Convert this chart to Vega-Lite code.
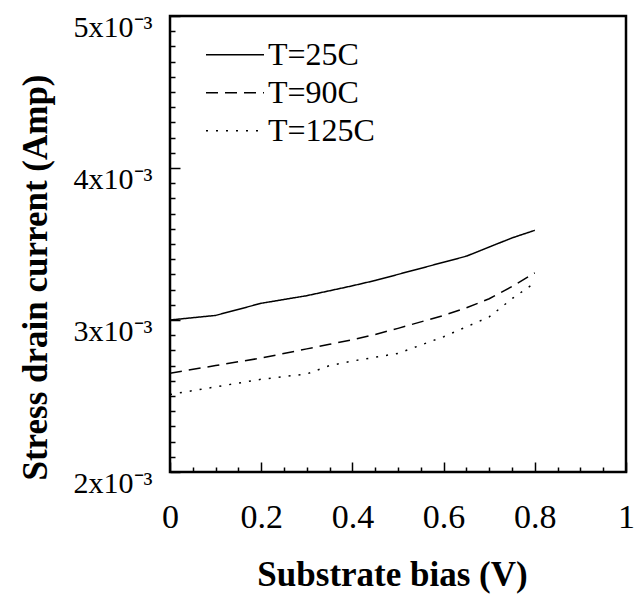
{
  "$schema": "https://vega.github.io/schema/vega-lite/v6.json",
  "width": 456,
  "height": 456,
  "autosize": "none",
  "padding": {"left": 170, "top": 16, "right": 8, "bottom": 127},
  "background": "white",
  "config": {
    "view": {"stroke": "black", "strokeWidth": 2.5},
    "font": "Liberation Serif",
    "axis": {"grid": false, "domain": false, "tickColor": "black", "tickWidth": 1.5, "labelColor": "black", "titleColor": "black", "labelFont": "Liberation Serif", "titleFont": "Liberation Serif"}
  },
  "data": {
    "values": [
      {"bias": 0.0, "current": 0.00300, "T": "T=25C"},
      {"bias": 0.1, "current": 0.00303, "T": "T=25C"},
      {"bias": 0.2, "current": 0.00311, "T": "T=25C"},
      {"bias": 0.3, "current": 0.00316, "T": "T=25C"},
      {"bias": 0.4, "current": 0.003225, "T": "T=25C"},
      {"bias": 0.45, "current": 0.00326, "T": "T=25C"},
      {"bias": 0.5, "current": 0.00330, "T": "T=25C"},
      {"bias": 0.6, "current": 0.00338, "T": "T=25C"},
      {"bias": 0.65, "current": 0.00342, "T": "T=25C"},
      {"bias": 0.7, "current": 0.00348, "T": "T=25C"},
      {"bias": 0.75, "current": 0.00354, "T": "T=25C"},
      {"bias": 0.8, "current": 0.00359, "T": "T=25C"},
      {"bias": 0.0, "current": 0.00265, "T": "T=90C"},
      {"bias": 0.1, "current": 0.00270, "T": "T=90C"},
      {"bias": 0.2, "current": 0.00275, "T": "T=90C"},
      {"bias": 0.3, "current": 0.00281, "T": "T=90C"},
      {"bias": 0.35, "current": 0.00284, "T": "T=90C"},
      {"bias": 0.4, "current": 0.00287, "T": "T=90C"},
      {"bias": 0.45, "current": 0.002905, "T": "T=90C"},
      {"bias": 0.5, "current": 0.002945, "T": "T=90C"},
      {"bias": 0.6, "current": 0.00303, "T": "T=90C"},
      {"bias": 0.65, "current": 0.00308, "T": "T=90C"},
      {"bias": 0.7, "current": 0.00314, "T": "T=90C"},
      {"bias": 0.75, "current": 0.00322, "T": "T=90C"},
      {"bias": 0.8, "current": 0.00331, "T": "T=90C"},
      {"bias": 0.0, "current": 0.00251, "T": "T=125C"},
      {"bias": 0.1, "current": 0.00256, "T": "T=125C"},
      {"bias": 0.2, "current": 0.00261, "T": "T=125C"},
      {"bias": 0.3, "current": 0.002645, "T": "T=125C"},
      {"bias": 0.35, "current": 0.00270, "T": "T=125C"},
      {"bias": 0.4, "current": 0.00273, "T": "T=125C"},
      {"bias": 0.5, "current": 0.00278, "T": "T=125C"},
      {"bias": 0.6, "current": 0.00289, "T": "T=125C"},
      {"bias": 0.7, "current": 0.00302, "T": "T=125C"},
      {"bias": 0.75, "current": 0.00314, "T": "T=125C"},
      {"bias": 0.8, "current": 0.003245, "T": "T=125C"}
    ]
  },
  "mark": {"type": "line", "color": "black", "strokeWidth": 1.5},
  "encoding": {
    "x": {
      "field": "bias",
      "type": "quantitative",
      "scale": {"domain": [0, 1], "nice": false, "zero": false},
      "axis": {
        "values": [0, 0.05, 0.1, 0.15, 0.2, 0.25, 0.3, 0.35, 0.4, 0.45, 0.5, 0.55, 0.6, 0.65, 0.7, 0.75, 0.8, 0.85, 0.9, 0.95, 1],
        "labelExpr": "abs(datum.value*5 - round(datum.value*5)) < 0.001 ? format(datum.value, '') : ''",
        "tickSize": {"condition": {"test": "abs(datum.value*5 - round(datum.value*5)) < 0.001", "value": -10}, "value": -5},
        "labelFontSize": 34,
        "labelBaseline": "alphabetic",
        "labelPadding": 65,
        "labelFlush": false,
        "labelOverlap": false,
        "title": "Substrate bias (V)",
        "titleFontSize": 35,
        "titleFontWeight": "bold",
        "titleX": 222,
        "titleY": 113,
        "titleBaseline": "alphabetic",
        "titleAlign": "center"
      }
    },
    "y": {
      "field": "current",
      "type": "quantitative",
      "scale": {"domain": [0.002, 0.005], "nice": false, "zero": false},
      "axis": {
        "values": [0.002, 0.0021, 0.0022, 0.0023, 0.0024, 0.0025, 0.0026, 0.0027, 0.0028, 0.0029, 0.003, 0.0031, 0.0032, 0.0033, 0.0034, 0.0035, 0.0036, 0.0037, 0.0038, 0.0039, 0.004, 0.0041, 0.0042, 0.0043, 0.0044, 0.0045, 0.0046, 0.0047, 0.0048, 0.0049, 0.005],
        "labelExpr": "abs(datum.value*1000 - round(datum.value*1000)) < 0.001 ? round(datum.value*1000) + 'x10⁻³' : ''",
        "tickSize": {"condition": {"test": "abs(datum.value*1000 - round(datum.value*1000)) < 0.001", "value": -10}, "value": -5},
        "labelFontSize": 30,
        "labelBaseline": "alphabetic",
        "labelOffset": 20,
        "labelPadding": 28,
        "labelOverlap": false,
        "labelFlush": false,
        "title": "Stress drain current (Amp)",
        "titleFontSize": 35,
        "titleFontWeight": "bold",
        "titleX": -124,
        "titleY": 261,
        "titleAngle": -90,
        "titleBaseline": "alphabetic",
        "titleAlign": "center"
      }
    },
    "strokeDash": {
      "field": "T",
      "type": "nominal",
      "scale": {"domain": ["T=25C", "T=90C", "T=125C"], "range": [[1, 0], [12, 7], [2, 8]]},
      "legend": {
        "orient": "none",
        "legendX": 35,
        "legendY": 20,
        "title": null,
        "padding": 0,
        "symbolType": "stroke",
        "symbolSize": 3364,
        "symbolStrokeWidth": 1.5,
        "symbolStrokeColor": "black",
        "labelFont": "Liberation Serif",
        "labelFontSize": 32,
        "labelColor": "black",
        "labelOffset": 3,
        "rowPadding": 0,
        "clipHeight": 37.5,
        "labelLimit": 300
      }
    }
  }
}
